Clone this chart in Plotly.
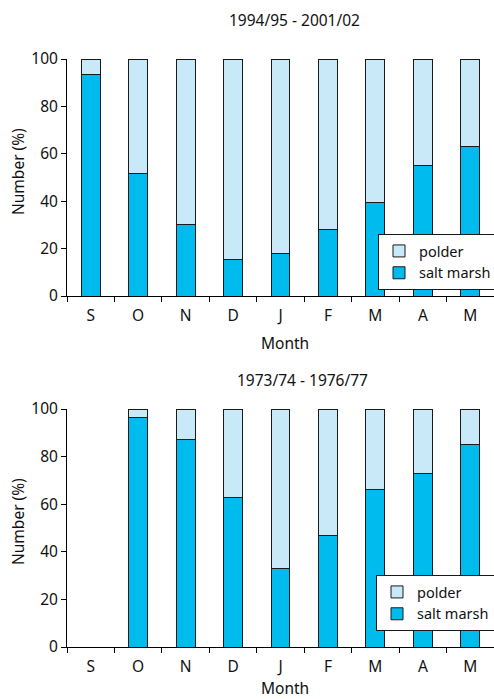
import plotly.graph_objects as go

months = ["S", "O", "N", "D", "J", "F", "M", "A", "M"]
month_ids = ["S", "O", "N", "D", "J", "F", "M1", "A", "M2"]

# Share (%) of birds on the salt marsh; the remainder used the polder
salt_marsh_recent = [93.5, 51.5, 30, 15.5, 18, 28, 39.5, 55, 63]
salt_marsh_early = [None, 96.5, 87.3, 63, 33, 47, 66, 73, 85]

polder_recent = [100 - v for v in salt_marsh_recent]
polder_early = [None if v is None else 100 - v for v in salt_marsh_early]

period_titles = ["1994/95 - 2001/02", "1973/74 - 1976/77"]

SALT = "#00BCEE"
POLDER = "#C8E9F8"
EDGE = "#1a1a1a"
FONT = "Noto Sans"

fig = go.Figure()

panels = [
    ("x", "y", "legend", salt_marsh_recent, polder_recent),
    ("x2", "y2", "legend2", salt_marsh_early, polder_early),
]
for xa, ya, lg, salt, pold in panels:
    fig.add_trace(go.Bar(
        x=month_ids, y=salt, name="salt marsh", xaxis=xa, yaxis=ya, legend=lg,
        width=0.4, cliponaxis=False,
        marker=dict(color=SALT, line=dict(color=EDGE, width=1)),
    ))
    fig.add_trace(go.Bar(
        x=month_ids, y=pold, name="polder", xaxis=xa, yaxis=ya, legend=lg,
        width=0.4, cliponaxis=False,
        marker=dict(color=POLDER, line=dict(color=EDGE, width=1)),
    ))

W, H = 494, 699
L, R = 67, 0
PW = W - L - R

def ydom(top_px, bottom_px):
    return [1 - bottom_px / H, 1 - top_px / H]

def px_x(x):
    return (x - L) / PW

def px_y(y):
    return 1 - y / H

xaxis_common = dict(
    type="category", categoryorder="array", categoryarray=month_ids,
    tickvals=month_ids, ticktext=months,
    showline=True, linecolor="black", linewidth=1,
    ticks="outside", tickson="boundaries", ticklen=5, tickcolor="black",
    ticklabelstandoff=5,
    showgrid=False, zeroline=False, range=[-0.5, 8.5],
    tickfont=dict(size=15.5, color="#111", family=FONT),
)
yaxis_common = dict(
    range=[0, 100], tickvals=[0, 20, 40, 60, 80, 100],
    showline=True, linecolor="black", linewidth=1,
    ticks="outside", ticklen=5, tickcolor="black",
    showgrid=False, zeroline=False,
    tickfont=dict(size=15.5, color="#111", family=FONT),
)

legend_common = dict(
    bgcolor="white", bordercolor=EDGE, borderwidth=1,
    font=dict(size=14.5, color="#111", family=FONT),
    xanchor="left", yanchor="top", traceorder="reversed",
    itemwidth=30, tracegroupgap=0,
)

fig.update_layout(
    width=W, height=H,
    margin=dict(l=L, r=R, t=0, b=0, autoexpand=False),
    paper_bgcolor="white", plot_bgcolor="white",
    barmode="stack",
    showlegend=True,
    font=dict(family=FONT, color="#111"),
    xaxis=dict(xaxis_common, anchor="y"),
    yaxis=dict(yaxis_common, domain=ydom(59, 296), anchor="x"),
    xaxis2=dict(xaxis_common, anchor="y2"),
    yaxis2=dict(yaxis_common, domain=ydom(409, 647), anchor="x2"),
    legend=dict(legend_common, x=px_x(378), y=px_y(234)),
    legend2=dict(legend_common, x=px_x(376), y=px_y(575)),
)

# Panel titles and axis titles
TITLE_FONT = dict(size=15.5, family=FONT, color="#111")
label_style = dict(xref="paper", yref="paper", showarrow=False,
                   xanchor="center", yanchor="middle", font=TITLE_FONT)
for title, xc, yc in zip(period_titles, [294, 302], [20, 380]):
    fig.add_annotation(text=title, x=px_x(xc), y=px_y(yc), **label_style)
for yc in [343, 688]:
    fig.add_annotation(text="Month", x=px_x(285), y=px_y(yc), **label_style)
for yc in [172, 522]:
    fig.add_annotation(text="Number (%)", x=px_x(18), y=px_y(yc), textangle=-90,
                       **label_style)

fig.write_html("out.html")
